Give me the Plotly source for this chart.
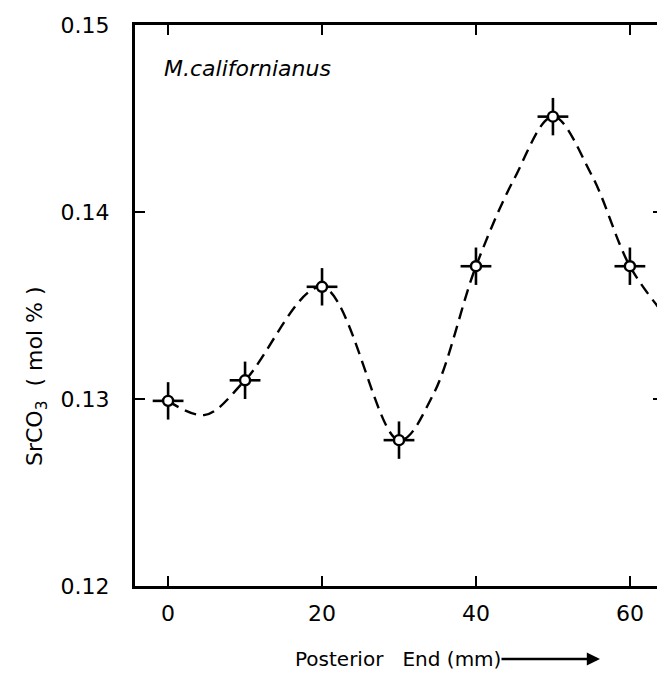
import plotly.graph_objects as go

# Measured points (position along shell, mm) and SrCO3 (mol %)
pos_mm = [0, 10, 20, 30, 40, 50, 60]
srco3 = [0.1299, 0.1310, 0.1360, 0.1278, 0.1371, 0.1451, 0.1371]
err_x = [2.0, 2.0, 2.0, 2.0, 2.0, 2.0, 2.0]
err_y = [0.0010, 0.0010, 0.0010, 0.0010, 0.0010, 0.0010, 0.0010]

# Hand-drawn smooth dashed curve
curve_x = [0, 4.8, 10, 20, 30, 34.4, 40, 45, 50, 55, 60, 64.3]
curve_y = [0.1299, 0.12915, 0.1310, 0.1360, 0.1278, 0.1302, 0.1371, 0.1418, 0.1451, 0.1420, 0.1371, 0.1346]

x_ticks = [0, 20, 40, 60]
y_ticks = [0.12, 0.13, 0.14, 0.15]
y_tick_labels = ["0.12", "0.13", "0.14", "0.15"]

FONT = "DejaVu Sans"

fig = go.Figure()
fig.add_trace(go.Scatter(
    x=curve_x, y=curve_y, mode="lines",
    line=dict(color="black", width=2.4, dash="12px,7px", shape="spline", smoothing=1.0),
    hoverinfo="skip", showlegend=False,
))
fig.add_trace(go.Scatter(
    x=pos_mm, y=srco3, mode="markers",
    marker=dict(symbol="circle", size=10, color="white", line=dict(color="black", width=2.4)),
    error_x=dict(type="data", array=err_x, width=0, thickness=2.6, color="black"),
    error_y=dict(type="data", array=err_y, width=0, thickness=2.6, color="black"),
    showlegend=False,
))

axis_common = dict(
    showline=True, linecolor="black", linewidth=3, mirror="allticks",
    ticks="inside", ticklen=10, tickwidth=2.2, tickcolor="black",
    showgrid=False, zeroline=False, automargin=False,
    tickfont=dict(family=FONT, size=22, color="black"),
)

fig.update_xaxes(range=[-4.3, 64.3], tickvals=x_ticks, ticklabelstandoff=6, **axis_common)
fig.update_yaxes(range=[0.12, 0.15], tickvals=y_ticks, ticktext=y_tick_labels,
                 ticklabelstandoff=18, **axis_common)

fig.add_annotation(
    x=(154 - 127) / 528, y=(578 - 60) / 561, xref="paper", yref="paper",
    xanchor="left", yanchor="middle",
    text="<i>M.californianus</i>", showarrow=False,
    font=dict(family=FONT, size=22, color="black"),
)
fig.add_annotation(
    x=(28 - 127) / 528, y=(578 - 368) / 561, xref="paper", yref="paper",
    xanchor="center", yanchor="middle", textangle=-90,
    text="SrCO<sub>3</sub>  ( mol % )", showarrow=False,
    font=dict(family=FONT, size=22, color="black"),
)
# axis title with its arrow pointing towards the posterior end
fig.add_annotation(
    x=(592 - 127) / 528, y=(578 - 651) / 561, xref="paper", yref="paper",
    ax=-(592 - 390), ay=0, axref="pixel", ayref="pixel",
    text="Posterior   End (mm)", showarrow=True, borderpad=0,
    arrowhead=2, arrowsize=1.1, arrowwidth=2.4, arrowcolor="black",
    font=dict(family=FONT, size=20, color="black"),
)

fig.update_layout(
    width=665, height=675,
    margin=dict(l=127, r=10, t=17, b=97),
    paper_bgcolor="white", plot_bgcolor="white",
    font=dict(family=FONT, color="black"),
)

fig.write_html("out.html")
